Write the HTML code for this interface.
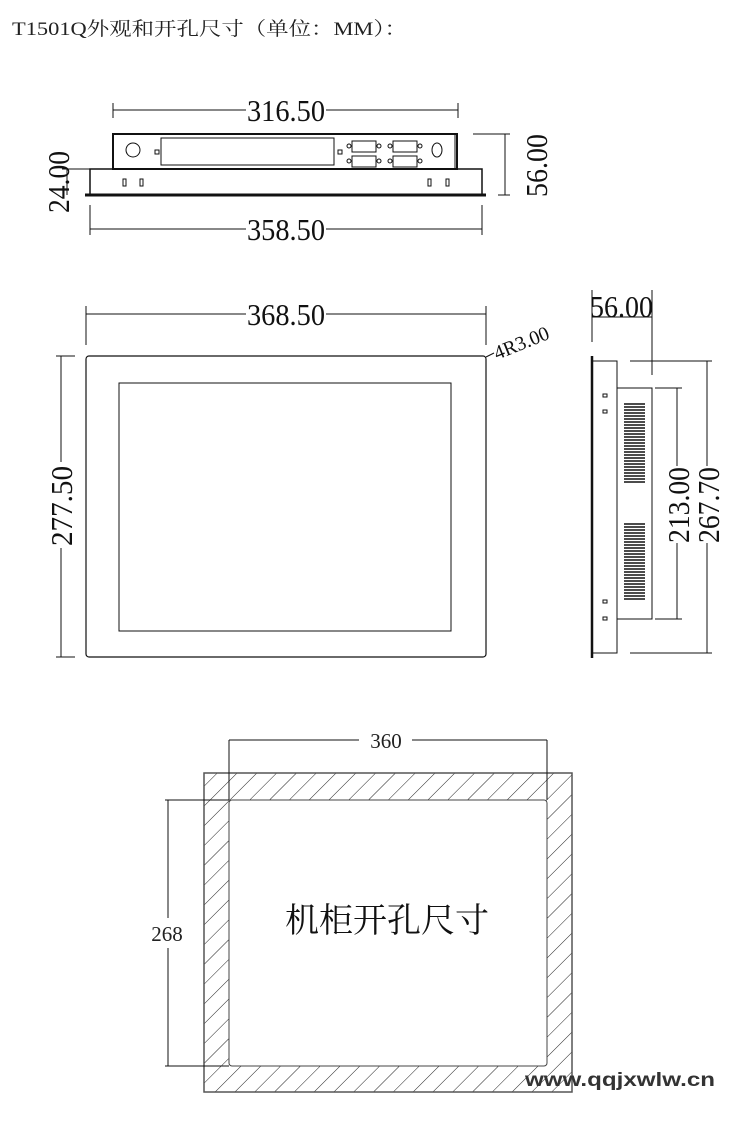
<!DOCTYPE html>
<html><head><meta charset="utf-8"><style>
html,body{margin:0;padding:0;background:#fff;width:750px;height:1121px;overflow:hidden}
svg{display:block}
.d{font-family:"Liberation Serif","DejaVu Serif",serif;font-size:31px;fill:#111}
</style></head><body>
<svg width="750" height="1121" viewBox="0 0 750 1121" xmlns="http://www.w3.org/2000/svg">
<defs>
<pattern id="h" patternUnits="userSpaceOnUse" width="14" height="14" patternTransform="rotate(45)">
<line x1="0" y1="0" x2="0" y2="14" stroke="#222" stroke-width="1"/>
</pattern>
</defs>
<text x="12" y="35" font-family="'Liberation Serif','Noto Serif CJK SC',serif" font-size="19" fill="#222" textLength="395" lengthAdjust="spacingAndGlyphs">T1501Q外观和开孔尺寸（单位：MM）：</text>

<g stroke="#111" fill="none" stroke-width="1">
<line x1="113" y1="110" x2="246" y2="110"/><line x1="326" y1="110" x2="458" y2="110"/>
<line x1="113" y1="103" x2="113" y2="118"/><line x1="458" y1="103" x2="458" y2="118"/>
<rect x="113" y="134" width="344" height="35" stroke-width="2"/>
<line x1="455" y1="135" x2="455" y2="169"/>
<rect x="90" y="169" width="392" height="26" stroke-width="1.5"/>
<line x1="85" y1="195" x2="486" y2="195" stroke-width="3"/>
<rect x="161" y="138" width="173" height="27"/>
<circle cx="133" cy="150" r="7"/><ellipse cx="437" cy="150" rx="5" ry="7"/>
<rect x="155" y="150" width="4" height="4"/><rect x="338" y="150" width="4" height="4"/>
<rect x="352" y="141" width="24" height="11"/><rect x="352" y="156" width="24" height="11"/>
<rect x="393" y="141" width="24" height="11"/><rect x="393" y="156" width="24" height="11"/>
<circle cx="349" cy="146" r="2"/><circle cx="379" cy="146" r="2"/><circle cx="349" cy="161" r="2"/><circle cx="379" cy="161" r="2"/>
<circle cx="390" cy="146" r="2"/><circle cx="420" cy="146" r="2"/><circle cx="390" cy="161" r="2"/><circle cx="420" cy="161" r="2"/>
<rect x="123" y="179" width="3" height="7"/><rect x="140" y="179" width="3" height="7"/>
<rect x="428" y="179" width="3" height="7"/><rect x="446" y="179" width="3" height="7"/>
<line x1="473" y1="134" x2="510" y2="134"/><line x1="505" y1="134" x2="505" y2="195"/><line x1="498" y1="195" x2="510" y2="195"/>
<line x1="67" y1="169" x2="67" y2="195"/><line x1="62" y1="169" x2="113" y2="169"/>
<line x1="90" y1="205" x2="90" y2="235"/><line x1="482" y1="205" x2="482" y2="235"/>
<line x1="90" y1="229" x2="246" y2="229"/><line x1="326" y1="229" x2="482" y2="229"/>

<line x1="86" y1="306" x2="86" y2="345"/><line x1="486" y1="306" x2="486" y2="345"/>
<line x1="86" y1="314" x2="246" y2="314"/><line x1="326" y1="314" x2="486" y2="314"/>
<rect x="86" y="356" width="400" height="301" rx="3" stroke-width="1.2"/>
<rect x="119" y="383" width="332" height="248"/>
<line x1="56" y1="356" x2="75" y2="356"/><line x1="56" y1="657" x2="75" y2="657"/>
<line x1="61" y1="356" x2="61" y2="462"/><line x1="61" y1="548" x2="61" y2="657"/>
<line x1="486" y1="357" x2="494" y2="353"/>

<line x1="592" y1="290" x2="592" y2="342"/><line x1="652" y1="290" x2="652" y2="375"/>
<line x1="592" y1="317" x2="652" y2="317"/>
<line x1="592" y1="356" x2="592" y2="658" stroke-width="2.5"/>
<rect x="592" y="361" width="25" height="292"/>
<rect x="617" y="388" width="35" height="231"/>
<rect x="603" y="394" width="4" height="3"/><rect x="603" y="410" width="4" height="3"/>
<rect x="603" y="600" width="4" height="3"/><rect x="603" y="617" width="4" height="3"/>
<line x1="630" y1="361" x2="712" y2="361"/><line x1="630" y1="653" x2="712" y2="653"/>
<line x1="655" y1="388" x2="682" y2="388"/><line x1="655" y1="619" x2="682" y2="619"/>
<line x1="677" y1="388" x2="677" y2="466"/><line x1="677" y1="543" x2="677" y2="619"/>
<line x1="707" y1="361" x2="707" y2="466"/><line x1="707" y1="543" x2="707" y2="653"/>

<rect x="204" y="773" width="368" height="319" fill="url(#h)" stroke="#555" stroke-width="1.5"/>
<rect x="229" y="800" width="318" height="266" rx="3" fill="#fff" stroke="#444"/>
<line x1="229" y1="740" x2="229" y2="800"/><line x1="547" y1="740" x2="547" y2="800"/>
<line x1="229" y1="740" x2="359" y2="740"/><line x1="412" y1="740" x2="547" y2="740"/>
<line x1="165" y1="800" x2="229" y2="800"/><line x1="165" y1="1066" x2="229" y2="1066"/>
<line x1="168" y1="800" x2="168" y2="918"/><line x1="168" y1="948" x2="168" y2="1066"/>
</g>
<g stroke="#111" stroke-width="1.5">
<line x1="624" y1="404" x2="645" y2="404"/><line x1="624" y1="407" x2="645" y2="407"/><line x1="624" y1="410" x2="645" y2="410"/><line x1="624" y1="413" x2="645" y2="413"/><line x1="624" y1="416" x2="645" y2="416"/><line x1="624" y1="419" x2="645" y2="419"/><line x1="624" y1="422" x2="645" y2="422"/><line x1="624" y1="425" x2="645" y2="425"/><line x1="624" y1="428" x2="645" y2="428"/><line x1="624" y1="431" x2="645" y2="431"/><line x1="624" y1="434" x2="645" y2="434"/><line x1="624" y1="437" x2="645" y2="437"/><line x1="624" y1="440" x2="645" y2="440"/><line x1="624" y1="443" x2="645" y2="443"/><line x1="624" y1="446" x2="645" y2="446"/><line x1="624" y1="449" x2="645" y2="449"/><line x1="624" y1="452" x2="645" y2="452"/><line x1="624" y1="455" x2="645" y2="455"/><line x1="624" y1="458" x2="645" y2="458"/><line x1="624" y1="461" x2="645" y2="461"/><line x1="624" y1="464" x2="645" y2="464"/><line x1="624" y1="467" x2="645" y2="467"/><line x1="624" y1="470" x2="645" y2="470"/><line x1="624" y1="473" x2="645" y2="473"/><line x1="624" y1="476" x2="645" y2="476"/><line x1="624" y1="479" x2="645" y2="479"/><line x1="624" y1="482" x2="645" y2="482"/>
<line x1="624" y1="524" x2="645" y2="524"/><line x1="624" y1="527" x2="645" y2="527"/><line x1="624" y1="530" x2="645" y2="530"/><line x1="624" y1="533" x2="645" y2="533"/><line x1="624" y1="536" x2="645" y2="536"/><line x1="624" y1="539" x2="645" y2="539"/><line x1="624" y1="542" x2="645" y2="542"/><line x1="624" y1="545" x2="645" y2="545"/><line x1="624" y1="548" x2="645" y2="548"/><line x1="624" y1="551" x2="645" y2="551"/><line x1="624" y1="554" x2="645" y2="554"/><line x1="624" y1="557" x2="645" y2="557"/><line x1="624" y1="560" x2="645" y2="560"/><line x1="624" y1="563" x2="645" y2="563"/><line x1="624" y1="566" x2="645" y2="566"/><line x1="624" y1="569" x2="645" y2="569"/><line x1="624" y1="572" x2="645" y2="572"/><line x1="624" y1="575" x2="645" y2="575"/><line x1="624" y1="578" x2="645" y2="578"/><line x1="624" y1="581" x2="645" y2="581"/><line x1="624" y1="584" x2="645" y2="584"/><line x1="624" y1="587" x2="645" y2="587"/><line x1="624" y1="590" x2="645" y2="590"/><line x1="624" y1="593" x2="645" y2="593"/><line x1="624" y1="596" x2="645" y2="596"/><line x1="624" y1="599" x2="645" y2="599"/>
</g>

<text class="d" x="247" y="121" textLength="78" lengthAdjust="spacingAndGlyphs">316.50</text>
<text class="d" x="247" y="240" textLength="78" lengthAdjust="spacingAndGlyphs">358.50</text>
<text class="d" x="247" y="325" textLength="78" lengthAdjust="spacingAndGlyphs">368.50</text>
<text class="d" x="590" y="317" textLength="63" lengthAdjust="spacingAndGlyphs">56.00</text>
<text class="d" transform="translate(547,197) rotate(-90)" textLength="63" lengthAdjust="spacingAndGlyphs">56.00</text>
<text class="d" transform="translate(69,213) rotate(-90)" textLength="62" lengthAdjust="spacingAndGlyphs">24.00</text>
<text class="d" transform="translate(72,546) rotate(-90)" textLength="80" lengthAdjust="spacingAndGlyphs">277.50</text>
<text class="d" transform="translate(689,543) rotate(-90)" textLength="76" lengthAdjust="spacingAndGlyphs">213.00</text>
<text class="d" transform="translate(719,543) rotate(-90)" textLength="76" lengthAdjust="spacingAndGlyphs">267.70</text>
<text class="d" style="font-size:20px" transform="translate(497,360) rotate(-22)" textLength="58" lengthAdjust="spacingAndGlyphs">4R3.00</text>
<text x="386" y="748" text-anchor="middle" font-family="'Liberation Serif',serif" font-size="21" fill="#222">360</text>
<text x="167" y="941" text-anchor="middle" font-family="'Liberation Serif',serif" font-size="21" fill="#222">268</text>
<text x="387" y="932" text-anchor="middle" font-family="'Liberation Serif','Noto Serif CJK SC',serif" font-size="34" fill="#111">机柜开孔尺寸</text>
<text x="525" y="1086" font-family="'Liberation Sans',sans-serif" font-weight="bold" font-size="19" fill="#333" textLength="190" lengthAdjust="spacingAndGlyphs">www.qqjxwlw.cn</text>
</svg>
</body></html>
